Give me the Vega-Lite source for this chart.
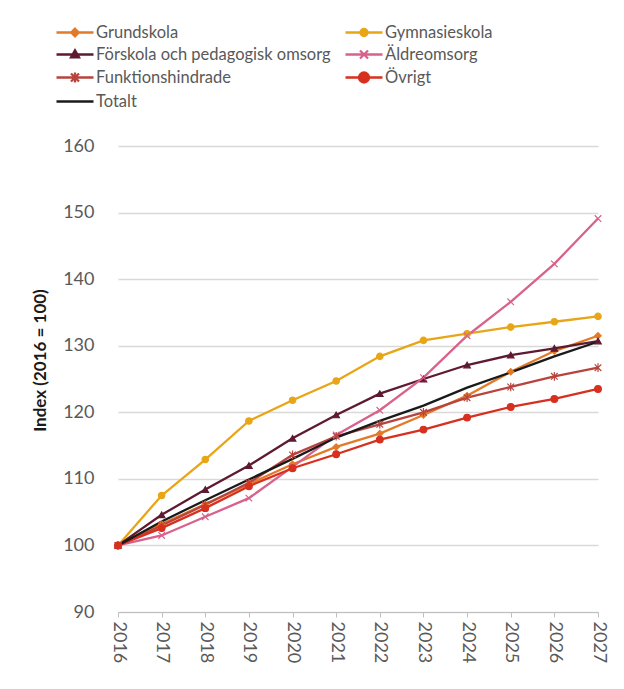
{
  "$schema": "https://vega.github.io/schema/vega-lite/v6.json",
  "width": 480,
  "height": 466,
  "autosize": "none",
  "padding": {"left": 118, "top": 146, "right": 26, "bottom": 77},
  "background": "white",
  "config": {"view": {"stroke": null}, "font": "Lato"},
  "data": {"values": [
    {"series": "Grundskola", "year": "2016", "value": 100},
    {"series": "Grundskola", "year": "2017", "value": 103.2},
    {"series": "Grundskola", "year": "2018", "value": 106.2},
    {"series": "Grundskola", "year": "2019", "value": 109.2},
    {"series": "Grundskola", "year": "2020", "value": 112.2},
    {"series": "Grundskola", "year": "2021", "value": 114.8},
    {"series": "Grundskola", "year": "2022", "value": 116.8},
    {"series": "Grundskola", "year": "2023", "value": 119.6},
    {"series": "Grundskola", "year": "2024", "value": 122.5},
    {"series": "Grundskola", "year": "2025", "value": 126.1},
    {"series": "Grundskola", "year": "2026", "value": 129.2},
    {"series": "Grundskola", "year": "2027", "value": 131.5},
    {"series": "Gymnasieskola", "year": "2016", "value": 100},
    {"series": "Gymnasieskola", "year": "2017", "value": 107.5},
    {"series": "Gymnasieskola", "year": "2018", "value": 112.9},
    {"series": "Gymnasieskola", "year": "2019", "value": 118.7},
    {"series": "Gymnasieskola", "year": "2020", "value": 121.8},
    {"series": "Gymnasieskola", "year": "2021", "value": 124.7},
    {"series": "Gymnasieskola", "year": "2022", "value": 128.4},
    {"series": "Gymnasieskola", "year": "2023", "value": 130.8},
    {"series": "Gymnasieskola", "year": "2024", "value": 131.8},
    {"series": "Gymnasieskola", "year": "2025", "value": 132.8},
    {"series": "Gymnasieskola", "year": "2026", "value": 133.6},
    {"series": "Gymnasieskola", "year": "2027", "value": 134.4},
    {"series": "Förskola och pedagogisk omsorg", "year": "2016", "value": 100},
    {"series": "Förskola och pedagogisk omsorg", "year": "2017", "value": 104.6},
    {"series": "Förskola och pedagogisk omsorg", "year": "2018", "value": 108.4},
    {"series": "Förskola och pedagogisk omsorg", "year": "2019", "value": 112.0},
    {"series": "Förskola och pedagogisk omsorg", "year": "2020", "value": 116.1},
    {"series": "Förskola och pedagogisk omsorg", "year": "2021", "value": 119.6},
    {"series": "Förskola och pedagogisk omsorg", "year": "2022", "value": 122.8},
    {"series": "Förskola och pedagogisk omsorg", "year": "2023", "value": 125.0},
    {"series": "Förskola och pedagogisk omsorg", "year": "2024", "value": 127.1},
    {"series": "Förskola och pedagogisk omsorg", "year": "2025", "value": 128.6},
    {"series": "Förskola och pedagogisk omsorg", "year": "2026", "value": 129.6},
    {"series": "Förskola och pedagogisk omsorg", "year": "2027", "value": 130.7},
    {"series": "Äldreomsorg", "year": "2016", "value": 100},
    {"series": "Äldreomsorg", "year": "2017", "value": 101.5},
    {"series": "Äldreomsorg", "year": "2018", "value": 104.3},
    {"series": "Äldreomsorg", "year": "2019", "value": 107.1},
    {"series": "Äldreomsorg", "year": "2020", "value": 111.8},
    {"series": "Äldreomsorg", "year": "2021", "value": 116.6},
    {"series": "Äldreomsorg", "year": "2022", "value": 120.3},
    {"series": "Äldreomsorg", "year": "2023", "value": 125.2},
    {"series": "Äldreomsorg", "year": "2024", "value": 131.5},
    {"series": "Äldreomsorg", "year": "2025", "value": 136.6},
    {"series": "Äldreomsorg", "year": "2026", "value": 142.3},
    {"series": "Äldreomsorg", "year": "2027", "value": 149.1},
    {"series": "Funktionshindrade", "year": "2016", "value": 100},
    {"series": "Funktionshindrade", "year": "2017", "value": 103.0},
    {"series": "Funktionshindrade", "year": "2018", "value": 106.1},
    {"series": "Funktionshindrade", "year": "2019", "value": 109.4},
    {"series": "Funktionshindrade", "year": "2020", "value": 113.6},
    {"series": "Funktionshindrade", "year": "2021", "value": 116.4},
    {"series": "Funktionshindrade", "year": "2022", "value": 118.2},
    {"series": "Funktionshindrade", "year": "2023", "value": 120.0},
    {"series": "Funktionshindrade", "year": "2024", "value": 122.2},
    {"series": "Funktionshindrade", "year": "2025", "value": 123.8},
    {"series": "Funktionshindrade", "year": "2026", "value": 125.4},
    {"series": "Funktionshindrade", "year": "2027", "value": 126.7},
    {"series": "Övrigt", "year": "2016", "value": 100},
    {"series": "Övrigt", "year": "2017", "value": 102.6},
    {"series": "Övrigt", "year": "2018", "value": 105.6},
    {"series": "Övrigt", "year": "2019", "value": 108.9},
    {"series": "Övrigt", "year": "2020", "value": 111.6},
    {"series": "Övrigt", "year": "2021", "value": 113.7},
    {"series": "Övrigt", "year": "2022", "value": 115.9},
    {"series": "Övrigt", "year": "2023", "value": 117.4},
    {"series": "Övrigt", "year": "2024", "value": 119.2},
    {"series": "Övrigt", "year": "2025", "value": 120.8},
    {"series": "Övrigt", "year": "2026", "value": 122.0},
    {"series": "Övrigt", "year": "2027", "value": 123.5},
    {"series": "Totalt", "year": "2016", "value": 100},
    {"series": "Totalt", "year": "2017", "value": 103.6},
    {"series": "Totalt", "year": "2018", "value": 106.8},
    {"series": "Totalt", "year": "2019", "value": 109.9},
    {"series": "Totalt", "year": "2020", "value": 113.0},
    {"series": "Totalt", "year": "2021", "value": 116.2},
    {"series": "Totalt", "year": "2022", "value": 118.7},
    {"series": "Totalt", "year": "2023", "value": 121.0},
    {"series": "Totalt", "year": "2024", "value": 123.7},
    {"series": "Totalt", "year": "2025", "value": 126.0},
    {"series": "Totalt", "year": "2026", "value": 128.4},
    {"series": "Totalt", "year": "2027", "value": 130.6}
  ]},
  "encoding": {
    "x": {
      "field": "year", "type": "ordinal",
      "scale": {"type": "point", "padding": 0},
      "axis": {
        "title": null, "labelAngle": 90, "labelFontSize": 18, "labelColor": "#595959",
        "labelPadding": 4, "domainColor": "#BFBFBF", "tickColor": "#BFBFBF", "tickSize": 5, "grid": false
      }
    },
    "y": {
      "field": "value", "type": "quantitative",
      "scale": {"domain": [90, 160], "nice": false, "zero": false},
      "axis": {
        "title": "Index (2016 = 100)", "titleFont": "Lato", "titleFontSize": 17,
        "titleFontWeight": "bold", "titleColor": "#1A1A1A", "titlePadding": 13, "titleY": 214,
        "values": [90, 100, 110, 120, 130, 140, 150, 160],
        "labelFontSize": 18, "labelColor": "#595959", "labelPadding": 24,
        "domain": false, "ticks": false, "gridColor": "#D9D9D9", "gridWidth": 1.5
      }
    }
  },
  "layer": [
    {
      "mark": {"type": "line", "strokeWidth": 2.3},
      "encoding": {
        "color": {
          "field": "series", "type": "nominal",
          "sort": ["Grundskola", "Gymnasieskola", "Förskola och pedagogisk omsorg", "Äldreomsorg", "Funktionshindrade", "Övrigt", "Totalt"],
          "scale": {
            "domain": ["Grundskola", "Gymnasieskola", "Förskola och pedagogisk omsorg", "Äldreomsorg", "Funktionshindrade", "Övrigt", "Totalt"],
            "range": ["#E37A28", "#E8A617", "#5E1A30", "#D8628C", "#B8443E", "#D7301F", "#1A1A1A"]
          },
          "legend": {
            "title": null, "orient": "none", "legendX": -63, "legendY": -125, "direction": "horizontal",
            "columns": 2, "columnPadding": 9, "rowPadding": 2, "padding": 0,
            "symbolSize": 400, "labelOffset": 18, "labelFontSize": 16.5, "labelColor": "#595959", "labelLimit": 400,
            "encode": {
              "symbols": {
                "update": {
                  "shape": {"signal": "datum.value === 'Grundskola' ? 'M-1,0H2.7M0.85,-0.38L1.23,0L0.85,0.38L0.47,0Z' : datum.value === 'Gymnasieskola' ? 'M-1,0H2.7M0.5,0A0.35,0.35,0,1,0,1.2,0A0.35,0.35,0,1,0,0.5,0Z' : datum.value === 'Förskola och pedagogisk omsorg' ? 'M-1,0H2.7M0.85,-0.42L1.25,0.28L0.45,0.28Z' : datum.value === 'Äldreomsorg' ? 'M-1,0H2.7M0.45,-0.4L1.25,0.4M0.45,0.4L1.25,-0.4' : datum.value === 'Funktionshindrade' ? 'M-1,0H2.7M0.45,-0.4L1.25,0.4M0.45,0.4L1.25,-0.4M0.85,-0.5L0.85,0.5' : datum.value === 'Övrigt' ? 'M-1,0H2.7M0.35,0A0.5,0.5,0,1,0,1.35,0A0.5,0.5,0,1,0,0.35,0Z' : 'M-1,0H2.7'"},
                  "fill": {"scale": "color", "field": "value"},
                  "stroke": {"scale": "color", "field": "value"},
                  "strokeWidth": {"value": 2.3},
                  "opacity": {"value": 1}
                }
              }
            }
          }
        }
      }
    },
    {
      "transform": [{"filter": "datum.series !== 'Totalt'"}],
      "mark": {"type": "point", "filled": true, "strokeWidth": 1.2, "opacity": 1},
      "encoding": {
        "color": {"field": "series", "type": "nominal", "legend": null},
        "stroke": {
          "field": "series", "type": "nominal", "legend": null,
          "scale": {
            "domain": ["Grundskola", "Gymnasieskola", "Förskola och pedagogisk omsorg", "Äldreomsorg", "Funktionshindrade", "Övrigt"],
            "range": ["#E37A28", "#E8A617", "#5E1A30", "#D8628C", "#B8443E", "#D7301F"]
          }
        },
        "shape": {
          "field": "series", "type": "nominal", "legend": null,
          "scale": {
            "domain": ["Grundskola", "Gymnasieskola", "Förskola och pedagogisk omsorg", "Äldreomsorg", "Funktionshindrade", "Övrigt"],
            "range": ["diamond", "circle", "triangle-up", "M-1,-1L1,1M-1,1L1,-1", "M-1,-1L1,1M-1,1L1,-1M0,-1.3L0,1.3", "circle"]
          }
        },
        "size": {
          "field": "series", "type": "nominal", "legend": null,
          "scale": {
            "domain": ["Grundskola", "Gymnasieskola", "Förskola och pedagogisk omsorg", "Äldreomsorg", "Funktionshindrade", "Övrigt"],
            "range": [40, 45, 45, 70, 80, 95]
          }
        }
      }
    }
  ]
}
